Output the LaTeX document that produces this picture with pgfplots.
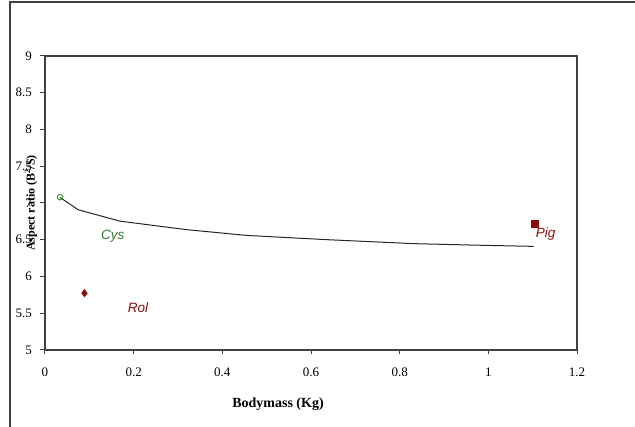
\documentclass[border=0pt]{standalone}
\usepackage{pgfplots}
\pgfplotsset{compat=1.18}
\usepackage{fontspec}
\setmainfont{Liberation Serif}
\newfontfamily\arialfont{Liberation Sans}
\definecolor{cysGreen}{HTML}{2F7A2F}
\definecolor{cysMark}{HTML}{3A9A3A}
\definecolor{rolRed}{HTML}{8B0A0A}
\definecolor{axGray}{HTML}{404040}

\begin{document}
\begin{tikzpicture}
  \useasboundingbox (-45pt,-77pt) rectangle (590pt,350pt);
  \draw[axGray,line width=1.2pt] (-35pt,-77pt) -- (-35pt,348pt) -- (590pt,348pt);
  \begin{axis}[
    scale only axis,
    width=532pt,height=294pt,
    xmin=0,xmax=1.2,ymin=5,ymax=9,
    xtick={0,0.2,...,1.2},
    ytick={5,5.5,...,9},
    tick align=outside,
    xtick pos=bottom,ytick pos=left,
    major tick length=4.5pt,
    tick style={axGray,line width=1pt},
    axis line style={axGray,line width=1.2pt},
    every tick label/.style={font=\fontsize{13}{15}\selectfont},
    xticklabel style={yshift=-9.5pt},
    yticklabel style={xshift=-5pt},
    /pgf/number format/assume math mode=true,
    xlabel={\textbf{Bodymass (Kg)}},
    ylabel={\textbf{Aspect ratio (B\textsuperscript{2}/S)}},
    every axis x label/.style={at={(axis description cs:0.438,0)},yshift=-54pt,anchor=center,
      font=\fontsize{14}{16}\selectfont},
    every axis y label/.style={at={(axis description cs:0,0.5)},xshift=-14pt,rotate=90,anchor=center,
      font=\fontsize{12}{14}\selectfont},
    clip=false,
  ]
    % fitted curve
    \addplot[black!85,line width=1pt] coordinates {
      (0.034,7.075) (0.075,6.908) (0.169,6.753) (0.320,6.637) (0.455,6.559)
      (0.636,6.501) (0.831,6.447) (0.989,6.424) (1.102,6.410)};
    % Cys
    \addplot[only marks,mark=o,mark size=2.8pt,cysMark,line width=1pt]
      coordinates {(0.034,7.08)};
    % Rol
    \addplot[only marks,mark=diamond*,mark size=3.8pt,rolRed]
      coordinates {(0.089,5.773)};
    % Pig
    \addplot[only marks,mark=square*,mark size=3.4pt,rolRed]
      coordinates {(1.104,6.72)};
    \node[cysGreen,font=\arialfont\itshape\fontsize{13.5}{15}\selectfont] at (axis cs:0.153,6.545) {Cys};
    \node[rolRed,font=\arialfont\itshape\fontsize{13.5}{15}\selectfont] at (axis cs:0.21,5.577) {Rol};
    \node[rolRed,font=\arialfont\itshape\fontsize{13.5}{15}\selectfont] at (axis cs:1.129,6.573) {Pig};
  \end{axis}
\end{tikzpicture}
\end{document}
